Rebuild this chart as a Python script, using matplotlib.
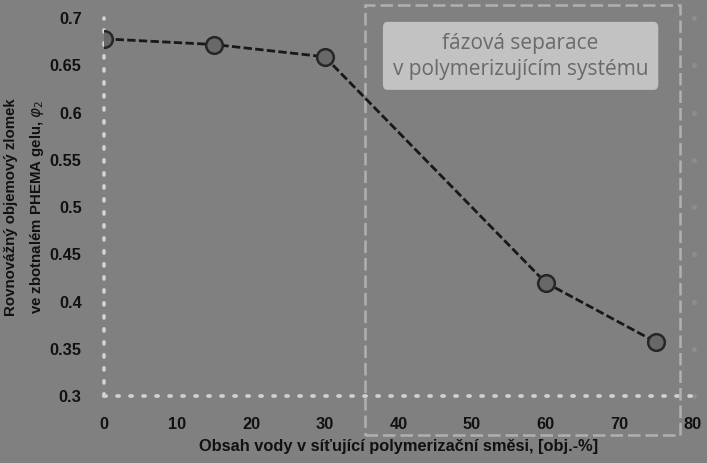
import numpy as np
import matplotlib.pyplot as plt
from matplotlib.patches import Rectangle, FancyBboxPatch

# data
voda = [0, 15, 30, 60, 75]
phi2 = [0.678, 0.672, 0.659, 0.420, 0.357]
xticks = [0, 10, 20, 30, 40, 50, 60, 70, 80]
yticks = [0.3, 0.35, 0.4, 0.45, 0.5, 0.55, 0.6, 0.65, 0.7]
ylabels = ["0.3", "0.35", "0.4", "0.45", "0.5", "0.55", "0.6", "0.65", "0.7"]

bg = "#808080"
fig = plt.figure(figsize=(7.07, 4.63), dpi=100, facecolor=bg)
ax = fig.add_axes([0.147, 0.1447, 0.833, 0.8163])
ax.set_facecolor(bg)

ax.plot(voda, phi2, color="#181818", lw=2.0, ls=(0, (3, 1.2)),
        marker="o", ms=12, mfc="#686868", mec="#262626", mew=1.8, zorder=5)

ax.set_xlim(0, 80)
ax.set_ylim(0.3, 0.7)
ax.set_xticks(xticks)
ax.set_yticks(yticks)
ax.set_yticklabels(ylabels)

for s in ["top", "right"]:
    ax.spines[s].set_visible(False)
for s in ["left", "bottom"]:
    ax.spines[s].set_color("#d2d2d2")
    ax.spines[s].set_linewidth(2.6)
    ax.spines[s].set_linestyle((0, (0.6, 3.0)))
    ax.spines[s].set_capstyle("round")

ax.tick_params(length=0, labelsize=11.8, labelcolor="#111111")
ax.tick_params(axis="y", pad=16)
ax.tick_params(axis="x", pad=15)
for lab in ax.get_xticklabels() + ax.get_yticklabels():
    lab.set_fontweight("bold")
    lab.set_family("Liberation Sans")

# faint marks on the right side
ax.plot([80.2] * len(yticks), yticks, ls="none", marker="o", ms=2.5,
        color="#8e8e8e", clip_on=False)

ax.set_xlabel("Obsah vody v síťující polymerizační směsi, [obj.-%]",
              fontsize=11.8, fontweight="bold", color="#111111", labelpad=5,
              family="Liberation Sans")
ax.set_ylabel("Rovnovážný objemový zlomek\nve zbotnalém PHEMA gelu, $\\varphi_2$",
              fontsize=10.8, fontweight="bold", color="#111111", labelpad=3,
              linespacing=1.75, family="Liberation Sans")

# dashed box marking the phase separation region
ax.add_patch(Rectangle((35.5, 0.259), 42.8, 0.455, fill=False,
                       ec="#b0b0b0", lw=1.8, ls=(0, (5, 2)), clip_on=False,
                       zorder=3))
ax.add_patch(FancyBboxPatch((37.9, 0.624), 37.4, 0.072,
                            boxstyle="round,pad=0,rounding_size=0.6",
                            fc="#c2c2c2", ec="none", zorder=4,
                            mutation_aspect=0.01))
ax.text(56.6, 0.6595, "fázová separace\nv polymerizujícím systému",
        ha="center", va="center", fontsize=15, color="#6a6a6a",
        family="Open Sans", linespacing=1.3, zorder=6)

fig.savefig("out.png", dpi=100, facecolor=bg)
